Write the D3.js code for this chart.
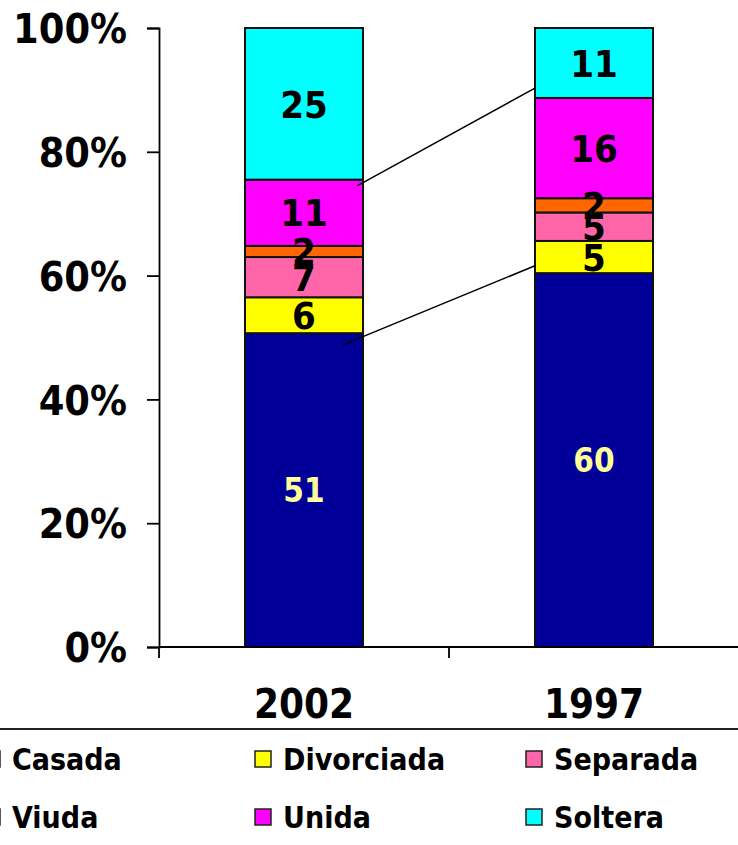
<!DOCTYPE html>
<html>
<head>
<meta charset="utf-8">
<script src="https://cdn.jsdelivr.net/npm/d3@7"></script>
<style>
  body { margin: 0; background: #fff; }
  svg text { font-family: "DejaVu Sans Condensed", "DejaVu Sans", sans-serif; font-stretch: condensed; font-weight: bold; }
</style>
</head>
<body>
<div id="chart"></div>
<script>
// Categorías (años) y series del estado civil
const years = ["2002", "1997"];
const seriesNames = ["Casada", "Divorciada", "Separada", "Viuda", "Unida", "Soltera"];
const seriesColors = ["#000099", "#FFFF00", "#FF66AA", "#FF6600", "#FF00FF", "#00FFFF"];

// Porcentajes (orden de seriesNames)
const values2002 = [50.7, 5.8, 6.5, 1.8, 10.7, 24.5];
const values1997 = [60.4, 5.2, 4.6, 2.3, 16.2, 11.3];

const yTicks = [0, 20, 40, 60, 80, 100];

// Líneas de unión dibujadas entre las barras (valor en % en cada extremo)
const connectors = [
    { from: 48.8, to: 61.6, fromPos: 0.83 },
    { from: 74.5, to: 90.3, fromPos: 0.95 }
];

function drawChart() {
    d3.select("#chart").selectAll("*").remove();

    const W = 738, H = 845;
    const margin = { top: 28, left: 159, bottom: 198 };
    const plotW = 580;

    const svg = d3.select("#chart").append("svg")
        .attr("width", W)
        .attr("height", H);

    // Armar filas para d3.stack
    const rows = years.map((y, i) => {
        const vals = i === 0 ? values2002 : values1997;
        const row = { year: y };
        seriesNames.forEach((s, j) => row[s] = vals[j]);
        return row;
    });

    const stacked = d3.stack().keys(seriesNames)(rows);

    const xScale = d3.scaleBand()
        .domain(years)
        .range([margin.left, margin.left + plotW])
        .padding(0);

    const barW = xScale.bandwidth() * 0.407;

    const yScale = d3.scaleLinear()
        .domain([0, 100])
        .range([H - margin.bottom, margin.top]);

    const color = d3.scaleOrdinal().domain(seriesNames).range(seriesColors);

    const segs = stacked.flatMap(s => s.map(p => ({ key: s.key, p })));

    // Barras apiladas
    svg.selectAll(".seg")
        .data(segs)
        .enter().append("rect")
        .attr("class", "seg")
        .attr("x", d => xScale(d.p.data.year) + (xScale.bandwidth() - barW) / 2)
        .attr("y", d => yScale(d.p[1]))
        .attr("width", barW)
        .attr("height", d => yScale(d.p[0]) - yScale(d.p[1]))
        .attr("fill", d => color(d.key))
        .attr("stroke", "#111")
        .attr("stroke-width", 2);

    // Etiquetas de valores (encima de todas las barras)
    svg.selectAll(".lbl")
        .data(segs)
        .enter().append("text")
        .attr("class", "lbl")
        .attr("x", d => xScale(d.p.data.year) + xScale.bandwidth() / 2)
        .attr("y", d => yScale((d.p[0] + d.p[1]) / 2))
        .attr("dy", "0.36em")
        .attr("text-anchor", "middle")
        .style("font-size", d => d.key === "Casada" ? "33px" : "38px")
        .attr("fill", d => d.key === "Casada" ? "#FFFF99" : "#000")
        .text(d => Math.round(d.p[1] - d.p[0]));

    // Líneas de unión
    svg.selectAll(".conector")
        .data(connectors)
        .enter().append("line")
        .attr("class", "conector")
        .attr("x1", d => xScale(years[0]) + (xScale.bandwidth() - barW) / 2 + barW * d.fromPos)
        .attr("y1", d => yScale(d.from))
        .attr("x2", xScale(years[1]) + (xScale.bandwidth() - barW) / 2)
        .attr("y2", d => yScale(d.to))
        .attr("stroke", "#000")
        .attr("stroke-width", 1.5);

    // Eje Y
    const yAxis = svg.append("g")
        .attr("transform", `translate(${margin.left},0)`)
        .call(d3.axisLeft(yScale).tickValues(yTicks).tickSize(12).tickFormat(d => d + "%"));
    yAxis.select(".domain").attr("stroke", "#000").attr("stroke-width", 1.8);
    yAxis.selectAll(".tick line").attr("stroke", "#000").attr("stroke-width", 1.8);
    yAxis.selectAll(".tick text")
        .attr("x", -32)
        .attr("dy", "0.36em")
        .attr("fill", "#000")
        .style("font-size", "41px");

    // Eje X
    const x0 = yScale(0);
    svg.append("line")
        .attr("x1", margin.left).attr("x2", margin.left + plotW + 10)
        .attr("y1", x0).attr("y2", x0)
        .attr("stroke", "#000").attr("stroke-width", 1.8);

    const xTickPos = [margin.left].concat(years.map(y => xScale(y) + xScale.bandwidth()));
    svg.selectAll(".xtick")
        .data(xTickPos)
        .enter().append("line")
        .attr("class", "xtick")
        .attr("x1", d => d).attr("x2", d => d)
        .attr("y1", x0).attr("y2", x0 + 11)
        .attr("stroke", "#000").attr("stroke-width", 1.8);

    svg.selectAll(".xlabel")
        .data(years)
        .enter().append("text")
        .attr("class", "xlabel")
        .attr("x", d => xScale(d) + xScale.bandwidth() / 2)
        .attr("y", x0 + 71)
        .attr("text-anchor", "middle")
        .style("font-size", "40px")
        .text(d => d);

    // Leyenda
    svg.append("rect")
        .attr("x", -20).attr("y", 729)
        .attr("width", W + 40).attr("height", 200)
        .attr("fill", "none")
        .attr("stroke", "#222")
        .attr("stroke-width", 2);

    const legend = svg.selectAll(".legend")
        .data(seriesNames)
        .enter().append("g")
        .attr("class", "legend")
        .attr("transform", (d, i) => `translate(${-16 + (i % 3) * 271},${759 + Math.floor(i / 3) * 58})`);

    legend.append("rect")
        .attr("x", 0).attr("y", -8)
        .attr("width", 16).attr("height", 16)
        .attr("fill", d => color(d))
        .attr("stroke", "#222")
        .attr("stroke-width", 1.5);

    legend.append("text")
        .attr("x", 28)
        .attr("y", 0)
        .attr("dy", "0.36em")
        .style("font-size", "30px")
        .text(d => d);
}

drawChart();
</script>
</body>
</html>
